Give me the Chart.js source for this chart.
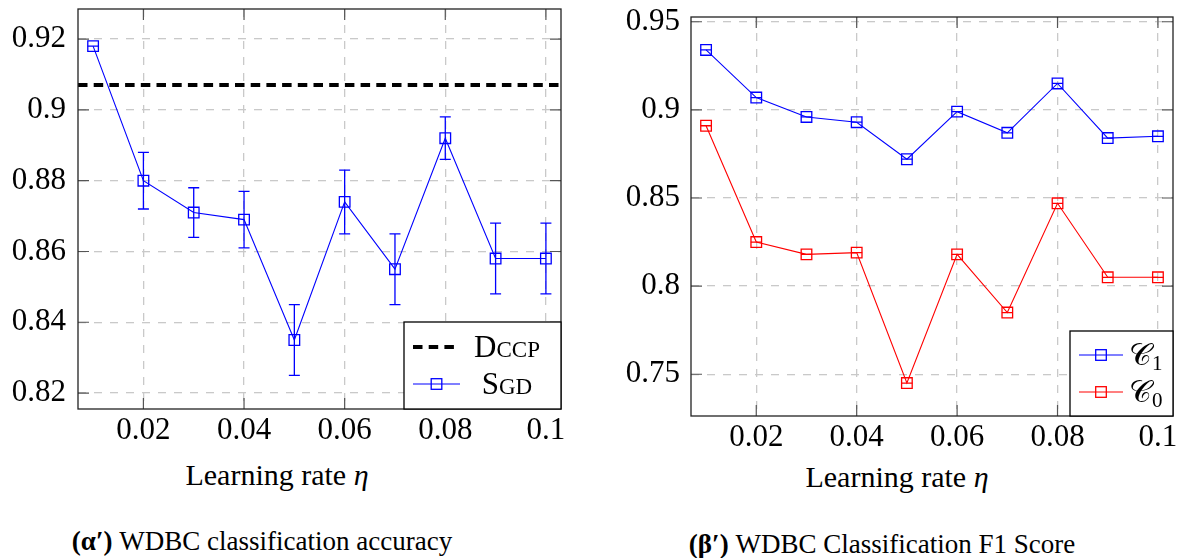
<!DOCTYPE html>
<html>
<head>
<meta charset="utf-8">
<script src="https://cdn.jsdelivr.net/npm/chart.js@4.4.1/dist/chart.umd.min.js"></script>
<style>
  body { margin: 0; background: #fff; width: 1184px; height: 558px; position: relative; overflow: hidden; }
  .box { position: absolute; top: 0; height: 450px; }
  .lbl { position: absolute; transform: translateX(-50%); white-space: nowrap; color: #000; line-height: 1; }
</style>
</head>
<body>
<div class="box" style="left:0;width:580px"><canvas id="accChart"></canvas></div>
<div class="box" style="left:600px;width:584px"><canvas id="f1Chart"></canvas></div>
<div class="lbl" style="left:277px;top:460px;font-size:30px">Learning rate <i>η</i></div>
<div class="lbl" style="left:897px;top:462px;font-size:30px">Learning rate <i>η</i></div>
<div class="lbl" style="left:262px;top:528px;font-size:27px"><b>(α′)</b> WDBC classification accuracy</div>
<div class="lbl" style="left:882px;top:531px;font-size:27px"><b>(β′)</b> WDBC Classification F1 Score</div>
<script>
// learning rates
const lr = [0.01, 0.02, 0.03, 0.04, 0.05, 0.06, 0.07, 0.08, 0.09, 0.1]

// (a) accuracy
const sgdAcc = [0.918, 0.880, 0.871, 0.869, 0.835, 0.874, 0.855, 0.892, 0.858, 0.858]
const sgdLow = [0.918, 0.872, 0.864, 0.861, 0.825, 0.865, 0.845, 0.886, 0.848, 0.848]
const sgdHigh = [0.918, 0.888, 0.878, 0.877, 0.845, 0.883, 0.865, 0.898, 0.868, 0.868]
const dccpAcc = 0.907

// (b) F1 score
const c1F1 = [0.934, 0.907, 0.896, 0.893, 0.872, 0.899, 0.887, 0.915, 0.884, 0.885]
const c0F1 = [0.891, 0.825, 0.818, 0.819, 0.745, 0.818, 0.785, 0.847, 0.805, 0.805]

// axes
const xMin = 0.007, xMax = 0.103
const xTicks = [0.02, 0.04, 0.06, 0.08, 0.1]
const accTicks = [0.82, 0.84, 0.86, 0.88, 0.9, 0.92]
const f1Ticks = [0.75, 0.8, 0.85, 0.9, 0.95]

// first serif face that is really installed
function pickFont(list) {
  const c = document.createElement('canvas').getContext('2d')
  const probe = 'mmmmWWlli0.92 abcdefg'
  for (const f of list) {
    let found = false
    for (const base of ['monospace', 'sans-serif']) {
      c.font = '60px ' + base
      const w0 = c.measureText(probe).width
      c.font = '60px "' + f + '", ' + base
      if (c.measureText(probe).width !== w0) found = true
    }
    if (found) return '"' + f + '", serif'
  }
  return 'serif'
}
const serif = pickFont(['Liberation Serif', 'Tinos', 'Times New Roman', 'Times', 'DejaVu Serif', 'Noto Serif', 'FreeSerif'])
document.body.style.fontFamily = serif

const tickFont = { family: serif, size: 31 }
const gridColor = '#c9c9c9'
const fmt = v => String(+v.toFixed(3))

const pts = ys => lr.map((x, i) => ({ x: x, y: ys[i] }))

function makeScales(yMin, yMax, yTicks, yWidth, yPad, xHeight, xPad) {
  return {
    x: {
      type: 'linear', min: xMin, max: xMax,
      afterBuildTicks: s => { s.ticks = xTicks.map(v => ({ value: v })) },
      afterFit: s => { s.height = xHeight; s.paddingLeft = 0; s.paddingRight = 0 },
      ticks: { padding: xPad, autoSkip: false, maxRotation: 0, color: '#000', font: tickFont, callback: fmt },
      grid: { color: gridColor, lineWidth: 1.3, drawTicks: false },
      border: { display: false, dash: [8, 8] }
    },
    y: {
      type: 'linear', min: yMin, max: yMax,
      afterBuildTicks: s => { s.ticks = yTicks.map(v => ({ value: v })) },
      afterFit: s => { s.width = yWidth; s.paddingTop = 0; s.paddingBottom = 0 },
      ticks: { padding: yPad, autoSkip: false, color: '#000', font: tickFont, callback: fmt },
      grid: { color: gridColor, lineWidth: 1.3, drawTicks: false },
      border: { display: false, dash: [8, 8] }
    }
  }
}

// pgfplots look: error bars, box frame with inward ticks, legend in lower right
const pgfStyle = {
  id: 'pgfStyle',
  afterDatasetsDraw(chart) {
    const ctx = chart.ctx, xs = chart.scales.x, ys = chart.scales.y
    chart.data.datasets.forEach(ds => {
      if (!ds.errLow) return
      ctx.save()
      ctx.strokeStyle = ds.borderColor
      ctx.lineWidth = 1.3
      ds.data.forEach((p, i) => {
        const px = xs.getPixelForValue(p.x)
        const lo = ys.getPixelForValue(ds.errLow[i])
        const hi = ys.getPixelForValue(ds.errHigh[i])
        ctx.beginPath()
        ctx.moveTo(px, lo); ctx.lineTo(px, hi)
        ctx.moveTo(px - 5.5, lo); ctx.lineTo(px + 5.5, lo)
        ctx.moveTo(px - 5.5, hi); ctx.lineTo(px + 5.5, hi)
        ctx.stroke()
      })
      ctx.restore()
    })
  },
  afterDraw(chart, args, opts) {
    const ctx = chart.ctx, a = chart.chartArea
    const xs = chart.scales.x, ys = chart.scales.y
    ctx.save()
    // inward tick marks on all four sides
    ctx.strokeStyle = '#555'
    ctx.lineWidth = 1.2
    ctx.beginPath()
    xs.ticks.forEach(t => {
      const px = xs.getPixelForValue(t.value)
      ctx.moveTo(px, a.bottom); ctx.lineTo(px, a.bottom - 11)
      ctx.moveTo(px, a.top); ctx.lineTo(px, a.top + 11)
    })
    ys.ticks.forEach(t => {
      const py = ys.getPixelForValue(t.value)
      ctx.moveTo(a.left, py); ctx.lineTo(a.left + 11, py)
      ctx.moveTo(a.right, py); ctx.lineTo(a.right - 11, py)
    })
    ctx.stroke()
    // frame
    ctx.strokeStyle = '#222'
    ctx.lineWidth = 1.3
    ctx.strokeRect(a.left, a.top, a.right - a.left, a.bottom - a.top)

    // legend box
    const bx = a.right - opts.w, by = a.bottom - opts.h
    ctx.fillStyle = '#fff'
    ctx.fillRect(bx, by, opts.w, opts.h)
    ctx.strokeStyle = '#000'
    ctx.strokeRect(bx, by, opts.w, opts.h)
    opts.rows.forEach(r => {
      const ds = chart.data.datasets[r.ds]
      const y = by + r.y
      ctx.save()
      ctx.strokeStyle = ds.borderColor
      ctx.lineWidth = ds.borderWidth
      ctx.setLineDash(ds.borderDash || [])
      ctx.beginPath()
      ctx.moveTo(bx + r.x0, y); ctx.lineTo(bx + r.x1, y)
      ctx.stroke()
      ctx.setLineDash([])
      if (ds.pointRadius > 0) {
        const s = Math.SQRT1_2 * ds.pointRadius
        ctx.lineWidth = ds.pointBorderWidth
        ctx.strokeRect(bx + (r.x0 + r.x1) / 2 - s, y - s, 2 * s, 2 * s)
      }
      ctx.restore()
      // label text made of parts (small caps, subscripts)
      ctx.fillStyle = '#000'
      ctx.textBaseline = 'alphabetic'
      let total = 0
      r.text.forEach(p => {
        ctx.font = (p.italic ? 'italic ' : '') + p.size + 'px ' + serif
        p.w = ctx.measureText(p.t).width + (p.gap || 0)
        total += p.w
      })
      let tx = r.align === 'center' ? bx + r.tx - total / 2 : bx + r.tx
      r.text.forEach(p => {
        ctx.font = (p.italic ? 'italic ' : '') + p.size + 'px ' + serif
        ctx.fillText(p.t, tx, y + r.base + (p.dy || 0))
        tx += p.w
      })
    })
    ctx.restore()
  }
}

new Chart(document.getElementById('accChart'), {
  type: 'line',
  data: {
    datasets: [{
      label: 'Dccp',
      data: [{ x: xMin, y: dccpAcc }, { x: xMax, y: dccpAcc }],
      borderColor: '#000',
      borderWidth: 4,
      borderDash: [9.5, 6.2],
      pointRadius: 0
    }, {
      label: 'Sgd',
      data: pts(sgdAcc),
      errLow: sgdLow,
      errHigh: sgdHigh,
      borderColor: '#0000ff',
      borderWidth: 1.1,
      pointStyle: 'rect',
      pointRadius: 7.5,
      pointBorderWidth: 1.3,
      pointBackgroundColor: 'rgba(0,0,0,0)',
      pointBorderColor: '#0000ff'
    }]
  },
  options: {
    responsive: true,
    maintainAspectRatio: false,
    animation: false,
    layout: { padding: { top: 9, right: 19, left: 0, bottom: 0 } },
    scales: makeScales(0.8155, 0.9285, accTicks, 78, 12, 41, 3),
    plugins: {
      legend: { display: false },
      tooltip: { enabled: false },
      pgfStyle: {
        w: 157, h: 87,
        rows: [
          { ds: 0, y: 25, x0: 9, x1: 50, tx: 103, align: 'center', base: 10,
            text: [{ t: 'D', size: 31 }, { t: 'CCP', size: 23 }] },
          { ds: 1, y: 62, x0: 9, x1: 56, tx: 103, align: 'center', base: 10,
            text: [{ t: 'S', size: 31 }, { t: 'GD', size: 23 }] }
        ]
      }
    }
  },
  plugins: [pgfStyle]
})

new Chart(document.getElementById('f1Chart'), {
  type: 'line',
  data: {
    datasets: [{
      label: 'C1',
      data: pts(c1F1),
      errLow: c1F1,
      errHigh: c1F1,
      borderColor: '#0000ff',
      borderWidth: 1.1,
      pointStyle: 'rect',
      pointRadius: 7.5,
      pointBorderWidth: 1.3,
      pointBackgroundColor: 'rgba(0,0,0,0)',
      pointBorderColor: '#0000ff'
    }, {
      label: 'C0',
      data: pts(c0F1),
      errLow: c0F1,
      errHigh: c0F1,
      borderColor: '#ff0000',
      borderWidth: 1.1,
      pointStyle: 'rect',
      pointRadius: 7.5,
      pointBorderWidth: 1.3,
      pointBackgroundColor: 'rgba(0,0,0,0)',
      pointBorderColor: '#ff0000'
    }]
  },
  options: {
    responsive: true,
    maintainAspectRatio: false,
    animation: false,
    layout: { padding: { top: 17, right: 11, left: 0, bottom: 0 } },
    scales: makeScales(0.7263, 0.9527, f1Ticks, 91, 11, 34, 3.7),
    plugins: {
      legend: { display: false },
      tooltip: { enabled: false },
      pgfStyle: {
        w: 103, h: 85,
        rows: [
          { ds: 0, y: 24, x0: 9, x1: 53, tx: 59, align: 'left', base: 10,
            text: [{ t: '𝒞', size: 31 }, { t: '1', size: 21, dy: 5 }] },
          { ds: 1, y: 61, x0: 9, x1: 53, tx: 59, align: 'left', base: 10,
            text: [{ t: '𝒞', size: 31 }, { t: '0', size: 21, dy: 5 }] }
        ]
      }
    }
  },
  plugins: [pgfStyle]
})
</script>
</body>
</html>
